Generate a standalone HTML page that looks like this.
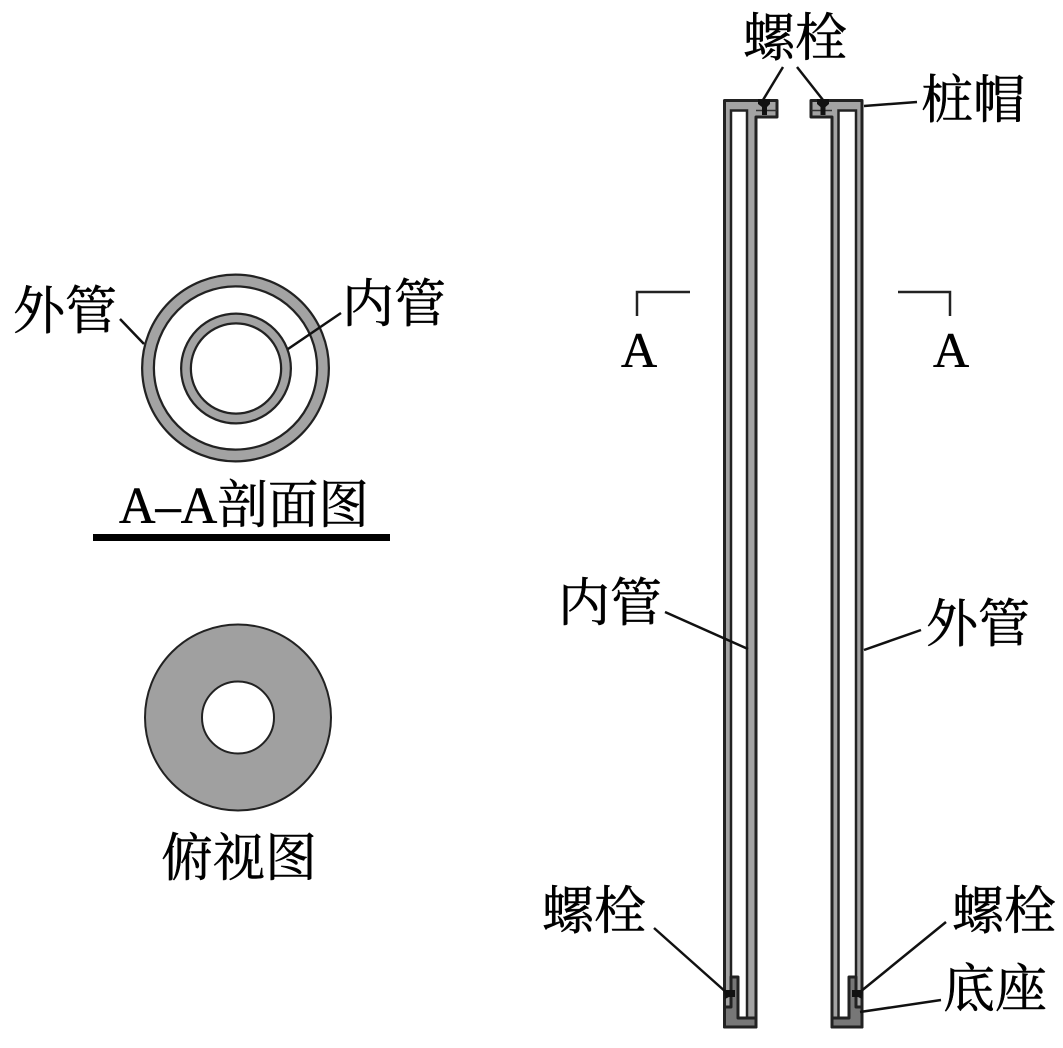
<!DOCTYPE html>
<html lang="zh">
<head>
<meta charset="utf-8">
<style>
html,body{margin:0;padding:0;background:#fff;width:1063px;height:1048px;overflow:hidden}
svg{display:block}
text{font-family:"Liberation Serif","Noto Serif CJK SC",serif;fill:#000;stroke:#000;stroke-width:.5px}
</style>
</head>
<body>
<svg width="1063" height="1048" viewBox="0 0 1063 1048" xmlns="http://www.w3.org/2000/svg">
<!-- A-A section -->
<circle cx="235.500" cy="368" r="87.500" fill="none" stroke="#222" stroke-width="14"/>
<circle cx="235.500" cy="368" r="87.500" fill="none" stroke="#a3a3a3" stroke-width="9.500"/>
<circle cx="236" cy="368.500" r="50" fill="none" stroke="#222" stroke-width="12"/>
<circle cx="236" cy="368.500" r="50" fill="none" stroke="#a3a3a3" stroke-width="7.500"/>
<line x1="120" y1="319" x2="144" y2="344" stroke="#111" stroke-width="2.500"/>
<line x1="341" y1="313" x2="288" y2="349" stroke="#111" stroke-width="2.500"/>
<text x="13" y="329" font-size="52">外管</text>
<text x="342" y="322" font-size="52">内管</text>
<text x="119" y="523" font-size="52" textLength="250" lengthAdjust="spacingAndGlyphs">A–A剖面图</text>
<rect x="93" y="534" width="297" height="7" fill="#000"/>
<!-- Top view -->
<circle cx="238" cy="717.500" r="93" fill="#a0a0a0" stroke="#222" stroke-width="2"/>
<circle cx="238" cy="717.500" r="36" fill="#fff" stroke="#222" stroke-width="2"/>
<text x="161" y="876" font-size="52">俯视图</text>
<!-- Left pipe -->
<path d="M724.500 1027V100.500H777V117H756V1027Z" fill="#a3a3a3" stroke="#222" stroke-width="3" stroke-linejoin="round"/>
<rect x="731" y="110.500" width="16" height="908" fill="#fff" stroke="#222" stroke-width="2.500"/>
<line x1="756" y1="110.500" x2="777" y2="110.500" stroke="#333" stroke-width="1.500"/>
<path d="M724.500 1027V1007H731V977H738V1018H756V1027Z" fill="#777" stroke="#222" stroke-width="3" stroke-linejoin="round"/>
<!-- Right pipe -->
<path d="M862 1027V100.500H811V117H832V1027Z" fill="#a3a3a3" stroke="#222" stroke-width="3" stroke-linejoin="round"/>
<rect x="838.500" y="110.500" width="17.500" height="908" fill="#fff" stroke="#222" stroke-width="2.500"/>
<line x1="811" y1="110.500" x2="832" y2="110.500" stroke="#333" stroke-width="1.500"/>
<path d="M862 1027V1007H856V977H849V1018H832V1027Z" fill="#777" stroke="#222" stroke-width="3" stroke-linejoin="round"/>
<!-- Bolts top -->
<path d="M758 99H770V104L767 107V115H762V107L758 104Z" fill="#111"/>
<path d="M817 99H829V104L825.500 107V115H820.500V107L817 104Z" fill="#111"/>
<!-- Bolts bottom -->
<path d="M724 990H735V997H729L725 999Z" fill="#111"/>
<path d="M863 990H852V997H858L862 999Z" fill="#111"/>
<!-- Leaders -->
<line x1="783" y1="67" x2="763" y2="100" stroke="#111" stroke-width="2.500"/>
<line x1="797" y1="67" x2="823" y2="100" stroke="#111" stroke-width="2.500"/>
<line x1="917" y1="102" x2="864" y2="106" stroke="#111" stroke-width="2.500"/>
<line x1="665" y1="612" x2="748" y2="649" stroke="#111" stroke-width="2.500"/>
<line x1="921" y1="630" x2="864" y2="650" stroke="#111" stroke-width="2.500"/>
<line x1="654" y1="928" x2="727" y2="993" stroke="#111" stroke-width="2.500"/>
<line x1="946" y1="922" x2="860" y2="992" stroke="#111" stroke-width="2.500"/>
<line x1="941" y1="1000" x2="860" y2="1012" stroke="#111" stroke-width="2.500"/>
<!-- Section marks -->
<path d="M637 316V292H690" fill="none" stroke="#222" stroke-width="2.500"/>
<path d="M950 316V292H898" fill="none" stroke="#222" stroke-width="2.500"/>
<text x="621" y="367" font-size="50">A</text>
<text x="933" y="367" font-size="50">A</text>
<!-- Labels -->
<text x="743" y="56" font-size="52">螺栓</text>
<text x="921" y="118" font-size="52">桩帽</text>
<text x="558" y="621" font-size="52">内管</text>
<text x="926" y="642" font-size="52">外管</text>
<text x="542" y="929" font-size="52">螺栓</text>
<text x="952" y="929" font-size="52">螺栓</text>
<text x="943" y="1007" font-size="52">底座</text>
</svg>
</body>
</html>
